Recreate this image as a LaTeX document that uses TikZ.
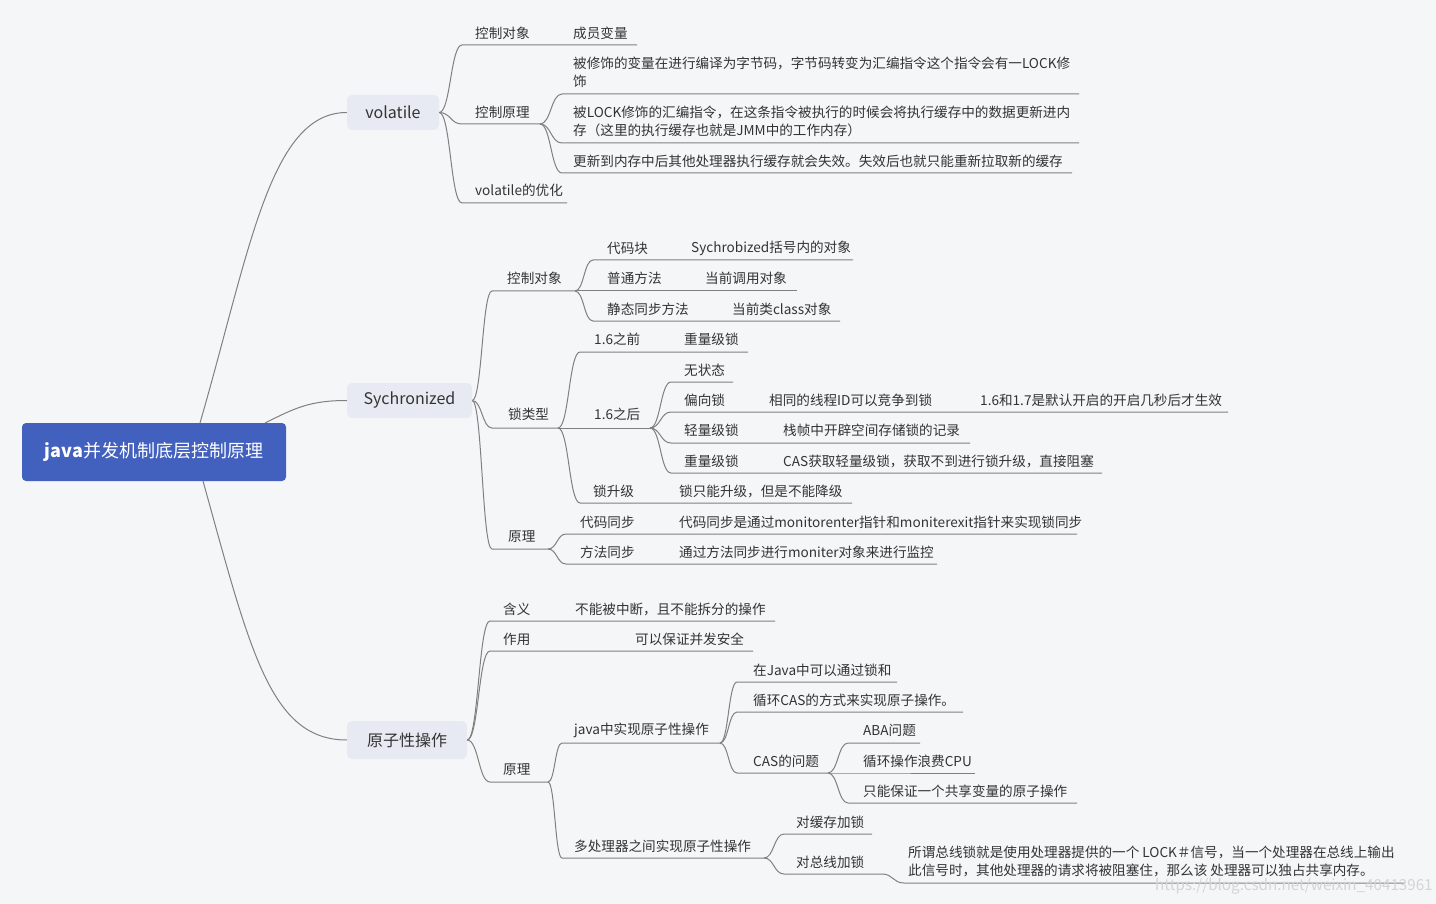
\documentclass[tikz,border=0pt]{standalone}
\usepackage{fontspec}
\setmainfont{Noto Sans CJK SC}
\usetikzlibrary{calc}
\definecolor{bg}{RGB}{245,246,248}
\definecolor{rootc}{RGB}{66,96,190}
\definecolor{mainc}{RGB}{232,234,243}
\definecolor{linec}{RGB}{128,128,128}
\definecolor{txtc}{RGB}{51,51,51}
\definecolor{wm}{RGB}{212,212,214}
\tikzset{
  ln/.style={draw=linec, line width=1pt},
  bez/.style={to path={let \p1=(\tikztostart),\p2=(\tikztotarget) in
      .. controls ({0.5*\x1+0.5*\x2},\y1) and ({0.5*\x1+0.5*\x2},\y2) .. (\tikztotarget)}},
  lbl/.style={anchor=west, inner sep=0pt, text=txtc, align=left, font=\fontsize{13.6}{18}\selectfont},
  mainbox/.style={fill=mainc, rounded corners=5pt, inner sep=0pt, text=txtc, font=\fontsize{16}{19}\selectfont},
  rootbox/.style={fill=rootc, rounded corners=4pt, inner sep=0pt, text=white, font=\fontsize{18}{21}\selectfont},
}
\begin{document}
\begin{tikzpicture}[x=1pt,y=-1pt]
\fill[bg] (0,0) rectangle (1436,904);
\useasboundingbox (0,0) rectangle (1436,904);

% root and main topics
\node[rootbox, minimum width=264pt, minimum height=58pt] (root) at (154,452) {\textbf{java}并发机制底层控制原理};
\node[mainbox, minimum width=92pt, minimum height=35pt] (vol) at (393,112.5) {volatile};
\node[mainbox, minimum width=125pt, minimum height=35pt] (syn) at (409.5,400.5) {Sychronized};
\node[mainbox, minimum width=120pt, minimum height=38pt] (ato) at (407,740) {原子性操作};

\coordinate (r1) at (200,423);
\coordinate (r2) at (265,423);
\coordinate (r3) at (203,481);
\draw[ln] (r1) .. controls (250,250) and (270,112.5) .. (vol.west);
\draw[ln] (r2) .. controls (295,408) and (310,400.5) .. (syn.west);
\draw[ln] (r3) .. controls (250,650) and (270,740) .. (ato.west);

% ---------------- volatile ----------------
\coordinate (v1s) at (462,45);  \coordinate (v1e) at (637,45);
\coordinate (v2s) at (462,124); \coordinate (v2e) at (540,124);
\coordinate (v3s) at (462,203); \coordinate (v3e) at (567,203);
\draw[ln] (vol.east) to[bez] (v1s) -- (v1e);
\draw[ln] (vol.east) to[bez] (v2s) -- (v2e);
\draw[ln] (vol.east) to[bez] (v3s) -- (v3e);
\node[lbl] (v1) at (475,33) {控制对象};
\node[lbl] (v1c) at (573,33) {成员变量};
\node[lbl] (v2) at (475,112) {控制原理};
\node[lbl] (v3) at (475,190) {volatile的优化};

\coordinate (v2as) at (562,94);  \coordinate (v2ae) at (1079,94);
\coordinate (v2bs) at (562,143); \coordinate (v2be) at (1079,143);
\coordinate (v2cs) at (562,173); \coordinate (v2ce) at (1072,173);
\draw[ln] (v2e) to[bez] (v2as) -- (v2ae);
\draw[ln] (v2e) to[bez] (v2bs) -- (v2be);
\draw[ln] (v2e) to[bez] (v2cs) -- (v2ce);
\node[lbl] (v2a) at (573,72) {被修饰的变量在进行编译为字节码，字节码转变为汇编指令这个指令会有一LOCK修\\饰};
\node[lbl] (v2b) at (573,121) {被LOCK修饰的汇编指令，在这条指令被执行的时候会将执行缓存中的数据更新进内\\存（这里的执行缓存也就是JMM中的工作内存）};
\node[lbl] (v2c) at (573,161) {更新到内存中后其他处理器执行缓存就会失效。失效后也就只能重新拉取新的缓存};

% ---------------- Sychronized ----------------
\coordinate (s1s) at (492,291); \coordinate (s1e) at (575,291);
\coordinate (s2s) at (492,428); \coordinate (s2e) at (558,428);
\coordinate (s3s) at (492,549); \coordinate (s3e) at (548,549);
\draw[ln] (syn.east) to[bez] (s1s) -- (s1e);
\draw[ln] (syn.east) to[bez] (s2s) -- (s2e);
\draw[ln] (syn.east) to[bez] (s3s) -- (s3e);
\node[lbl] (s1) at (507,278) {控制对象};
\node[lbl] (s2) at (508,414) {锁类型};
\node[lbl] (s3) at (508,537) {原理};

% 控制对象
\coordinate (s1as) at (593,260); \coordinate (s1ae) at (853,260);
\coordinate (s1be) at (797,291);
\coordinate (s1cs) at (593,321); \coordinate (s1ce) at (840,321);
\draw[ln] (s1e) to[bez] (s1as) -- (s1ae);
\draw[ln] (s1e) -- (s1be);
\draw[ln] (s1e) to[bez] (s1cs) -- (s1ce);
\node[lbl] (s1a) at (607,248) {代码块};
\node[lbl] (s1ac) at (691,248) {Sychrobized括号内的对象};
\node[lbl] (s1b) at (607,278) {普通方法};
\node[lbl] (s1bc) at (705,278) {当前调用对象};
\node[lbl] (s1c) at (607,309) {静态同步方法};
\node[lbl] (s1cc) at (732,309) {当前类class对象};

% 锁类型
\coordinate (s2as) at (580,352); \coordinate (s2ae) at (748,352);
\coordinate (s2be) at (650,428);
\coordinate (s2cs) at (580,503); \coordinate (s2ce) at (852,503);
\draw[ln] (s2e) to[bez] (s2as) -- (s2ae);
\draw[ln] (s2e) -- (s2be);
\draw[ln] (s2e) to[bez] (s2cs) -- (s2ce);
\node[lbl] (s2a) at (594,339) {1.6之前};
\node[lbl] (s2ac) at (684,339) {重量级锁};
\node[lbl] (s2b) at (594,414) {1.6之后};
\node[lbl] (s2c) at (593,491) {锁升级};
\node[lbl] (s2cc) at (679,491) {锁只能升级，但是不能降级};

% 1.6之后
\coordinate (b1s) at (671,382); \coordinate (b1e) at (733,382);
\coordinate (b2s) at (671,412); \coordinate (b2e) at (1228,412);
\coordinate (b3s) at (671,443); \coordinate (b3e) at (970,443);
\coordinate (b4s) at (671,473); \coordinate (b4e) at (1102,473);
\draw[ln] (s2be) to[bez] (b1s) -- (b1e);
\draw[ln] (s2be) to[bez] (b2s) -- (b2e);
\draw[ln] (s2be) to[bez] (b3s) -- (b3e);
\draw[ln] (s2be) to[bez] (b4s) -- (b4e);
\node[lbl] (b1) at (684,370) {无状态};
\node[lbl] (b2) at (684,400) {偏向锁};
\node[lbl] (b2c) at (769,400) {相同的线程ID可以竞争到锁};
\node[lbl] (b2cc) at (980,400) {1.6和1.7是默认开启的开启几秒后才生效};
\node[lbl] (b3) at (684,430) {轻量级锁};
\node[lbl] (b3c) at (783,430) {栈帧中开辟空间存储锁的记录};
\node[lbl] (b4) at (684,461) {重量级锁};
\node[lbl] (b4c) at (783,461) {CAS获取轻量级锁，获取不到进行锁升级，直接阻塞};

% 原理
\coordinate (s3as) at (566,534); \coordinate (s3ae) at (1077,534);
\coordinate (s3bs) at (566,564); \coordinate (s3be) at (937,564);
\draw[ln] (s3e) to[bez] (s3as) -- (s3ae);
\draw[ln] (s3e) to[bez] (s3bs) -- (s3be);
\node[lbl] (s3a) at (580,522) {代码同步};
\node[lbl] (s3ac) at (679,522) {代码同步是通过monitorenter指针和moniterexit指针来实现锁同步};
\node[lbl] (s3b) at (580,552) {方法同步};
\node[lbl] (s3bc) at (679,552) {通过方法同步进行moniter对象来进行监控};

% ---------------- 原子性操作 ----------------
\coordinate (a1s) at (490,621); \coordinate (a1e) at (775,621);
\coordinate (a2s) at (490,651); \coordinate (a2e) at (753,651);
\coordinate (a3s) at (490,782); \coordinate (a3e) at (548,782);
\draw[ln] (ato.east) to[bez] (a1s) -- (a1e);
\draw[ln] (ato.east) to[bez] (a2s) -- (a2e);
\draw[ln] (ato.east) to[bez] (a3s) -- (a3e);
\node[lbl] (a1) at (503,609) {含义};
\node[lbl] (a1c) at (575,609) {不能被中断，且不能拆分的操作};
\node[lbl] (a2) at (503,639) {作用};
\node[lbl] (a2c) at (635,639) {可以保证并发安全};
\node[lbl] (a3) at (503,770) {原理};

\coordinate (j1s) at (562,743); \coordinate (j1e) at (720,743);
\coordinate (j2s) at (562,858); \coordinate (j2e) at (764,858);
\draw[ln] (a3e) to[bez] (j1s) -- (j1e);
\draw[ln] (a3e) to[bez] (j2s) -- (j2e);
\node[lbl] (j1) at (574,730) {java中实现原子性操作};
\node[lbl] (j2) at (574,846) {多处理器之间实现原子性操作};

\coordinate (k1s) at (737,682); \coordinate (k1e) at (897,682);
\coordinate (k2s) at (737,712); \coordinate (k2e) at (963,712);
\coordinate (k3s) at (737,773); \coordinate (k3e) at (828,773);
\draw[ln] (j1e) to[bez] (k1s) -- (k1e);
\draw[ln] (j1e) to[bez] (k2s) -- (k2e);
\draw[ln] (j1e) to[bez] (k3s) -- (k3e);
\node[lbl] (k1) at (753,670) {在Java中可以通过锁和};
\node[lbl] (k2) at (753,700) {循环CAS的方式来实现原子操作。};
\node[lbl] (k3) at (753,761) {CAS的问题};

\coordinate (c1s) at (848,743); \coordinate (c1e) at (920,743);
\coordinate (c2s) at (848,773); \coordinate (c2e) at (975,773);
\coordinate (c3s) at (848,803); \coordinate (c3e) at (1077,803);
\draw[ln] (k3e) to[bez] (c1s) -- (c1e);
\draw[ln] (k3e) to[bez] (c2s) -- (c2e);
\draw[ln] (k3e) to[bez] (c3s) -- (c3e);
\node[lbl] (c1) at (863,730) {ABA问题};
\node[lbl] (c2) at (863,761) {循环操作浪费CPU};
\node[lbl] (c3) at (863,791) {只能保证一个共享变量的原子操作};

\coordinate (m1s) at (784,834); \coordinate (m1e) at (872,834);
\coordinate (m2s) at (784,874); \coordinate (m2e) at (882,874);
\coordinate (m3s) at (904,883); \coordinate (m3e) at (1405,883);
\draw[ln] (j2e) to[bez] (m1s) -- (m1e);
\draw[ln] (j2e) to[bez] (m2s) -- (m2e) to[bez] (m3s) -- (m3e);
\node[lbl] (m1) at (796,822) {对缓存加锁};
\node[lbl] (m2) at (796,862) {对总线加锁};
\node[lbl] (m2c) at (908,861) {所谓总线锁就是使用处理器提供的一个 LOCK＃信号，当一个处理器在总线上输出\\此信号时，其他处理器的请求将被阻塞住，那么该 处理器可以独占共享内存。};

% watermark
\node[anchor=west, inner sep=0pt, text=wm, font=\fontsize{15.2}{17}\selectfont] (wmk) at (1155,886) {https://blog.csdn.net/weixin\_40413961};
\end{tikzpicture}
\end{document}
